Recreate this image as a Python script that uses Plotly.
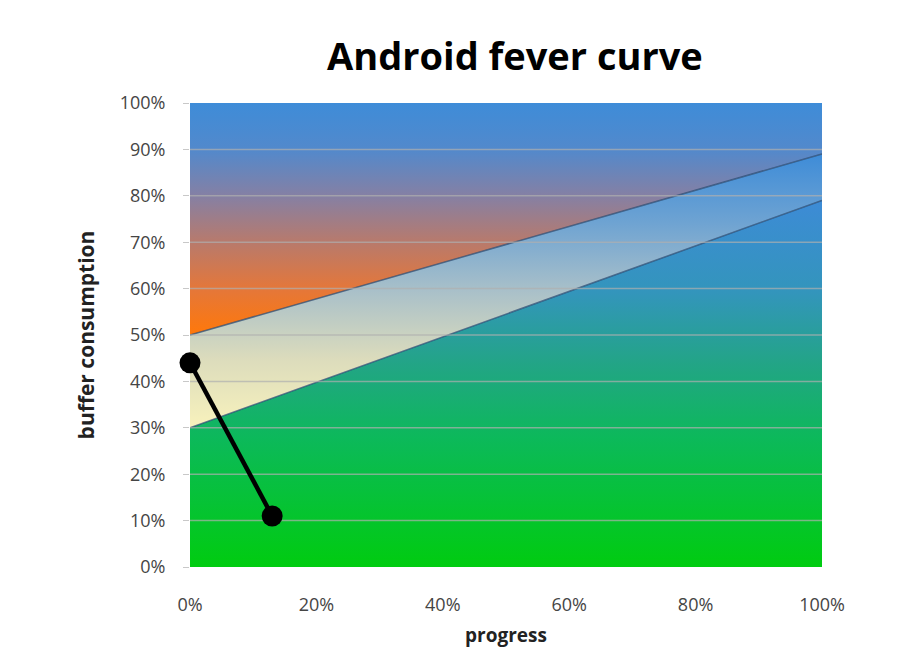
import plotly.graph_objects as go

# data
progress = [0, 100]
lower_bound = [30, 79]
upper_bound = [50, 89]
ceiling = [100, 100]
actual_x = [0, 13]
actual_y = [44, 11]
y_ticks = [0, 10, 20, 30, 40, 50, 60, 70, 80, 90, 100]
x_ticks = [0, 20, 40, 60, 80, 100]

edge = dict(color="rgba(40,75,115,0.75)", width=1.5)

fig = go.Figure()

# bottom area (green -> blue)
fig.add_trace(go.Scatter(
    x=progress, y=lower_bound, mode="lines", line=edge, fill="tozeroy",
    fillgradient=dict(type="vertical", start=0, stop=max(lower_bound),
                      colorscale=[[0, "#00cc10"], [0.35, "#0cb95a"], [0.55, "#22a585"],
                                  [0.75, "#3395bc"], [1, "#3d8bd6"]]),
    hoverinfo="skip", showlegend=False))

# middle band (cream -> blue)
fig.add_trace(go.Scatter(
    x=progress, y=upper_bound, mode="lines", line=edge, fill="tonexty",
    fillgradient=dict(type="vertical", start=min(lower_bound), stop=max(upper_bound),
                      colorscale=[[0, "#f8f2bc"], [0.25, "#dcdcbc"], [0.5, "#a9c0c9"],
                                  [0.75, "#6ea3d2"], [1, "#3e8cd8"]]),
    hoverinfo="skip", showlegend=False))

# top area (orange -> blue)
fig.add_trace(go.Scatter(
    x=progress, y=ceiling, mode="lines", line=dict(width=0), fill="tonexty",
    fillgradient=dict(type="vertical", start=min(upper_bound), stop=max(ceiling),
                      colorscale=[[0, "#ff780a"], [0.2, "#e4773a"], [0.4, "#b87a6c"],
                                  [0.6, "#8580a4"], [0.8, "#5289cc"], [1, "#3e8cd8"]]),
    hoverinfo="skip", showlegend=False))

# gridlines drawn over the areas
gx, gy = [], []
for v in y_ticks[1:-1]:
    gx += [0, 100, None]
    gy += [v, v, None]
fig.add_trace(go.Scatter(x=gx, y=gy, mode="lines",
                         line=dict(color="rgba(175,175,175,0.7)", width=1.5),
                         hoverinfo="skip", showlegend=False))

# actual progress line
fig.add_trace(go.Scatter(
    x=actual_x, y=actual_y, mode="lines+markers",
    line=dict(color="black", width=4.5),
    marker=dict(color="black", size=21),
    showlegend=False, cliponaxis=False))

fig.update_layout(
    width=894, height=663,
    margin=dict(l=182, r=80, t=95, b=104),
    paper_bgcolor="white", plot_bgcolor="white",
    font=dict(family="Open Sans, sans-serif", color="#454545", size=18),
    title=dict(text="<b>Android fever curve</b>", x=0.567, xanchor="center",
               y=0.926, yanchor="middle",
               font=dict(family="Open Sans, sans-serif", size=38, color="black")),
    xaxis=dict(range=[0, 100], tickvals=x_ticks, ticktext=[f"{v}%" for v in x_ticks],
               showgrid=False, zeroline=False, showline=False, ticks="",
               ticklabelstandoff=25,
               title=dict(text="<b>progress</b>", standoff=13,
                          font=dict(size=19, color="#222222"))),
    yaxis=dict(range=[0, 100], tickvals=y_ticks, ticktext=[f"{v}%" for v in y_ticks],
               showgrid=False, zeroline=False, showline=False,
               ticks="outside", ticklen=6, tickcolor="#c8c8c8",
               ticklabelstandoff=14,
               title=dict(text="<b>buffer consumption</b>", standoff=19,
                          font=dict(size=21, color="#222222"))),
)

fig.write_html("out.html")
